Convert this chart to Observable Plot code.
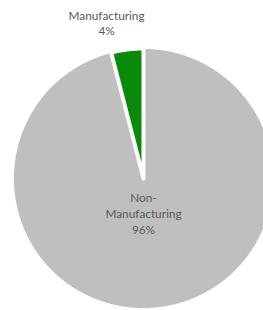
<!DOCTYPE html>
<html><head><meta charset="utf-8">
<script src="https://cdn.jsdelivr.net/npm/d3@7"></script>
<script src="https://cdn.jsdelivr.net/npm/@observablehq/plot@0.6"></script>
<style>
body{margin:0;background:#fff;}
#chart svg{display:block;}
</style>
</head><body><div id="chart"></div>
<script>
// Data
const categories = ["Non-Manufacturing", "Manufacturing"];
const values = [96, 4];
const labelNames = ["Non-\nManufacturing", "Manufacturing"];

const total = d3.sum(values);
const pie = d3.pie().sort(null).value(d => d.value)(
  categories.map((c, i) => ({category: c, value: values[i], name: labelNames[i]}))
);

// Build slice outlines in unit-circle data space (angle clockwise from 12 o'clock)
const points = [];
for (const s of pie) {
  points.push({category: s.data.category, u: 0, v: 0});
  const n = Math.max(2, Math.ceil((s.endAngle - s.startAngle) / (Math.PI / 360)));
  for (let k = 0; k <= n; ++k) {
    const a = s.startAngle + (s.endAngle - s.startAngle) * k / n;
    points.push({category: s.data.category, u: Math.sin(a), v: Math.cos(a)});
  }
}

const labelRows = pie.map(s => ({
  category: s.data.category,
  text: `${s.data.name}\n${Math.round(s.data.value / total * 100)}%`,
  mid: (s.startAngle + s.endAngle) / 2,
  share: s.data.value / total
}));

const W = 263, H = 310, R = 130, CX = 143, CY = 178;
const font = "Lato, 'Open Sans', sans-serif";

const chart = Plot.plot({
  width: W, height: H,
  margin: 0,
  style: {background: "white", fontFamily: font},
  x: {domain: [-CX / R, (W - CX) / R], range: [0, W], axis: null},
  y: {domain: [-(H - CY) / R, CY / R], range: [H, 0], axis: null},
  color: {domain: categories, range: ["#bfbfbf", "#0a8a0a"]},
  marks: [
    Plot.line(points.filter(d => d.category === categories[0]), {
      x: "u", y: "v", z: "category", fill: "category",
      stroke: "white", strokeWidth: 1, curve: "linear-closed", strokeLinejoin: "round"
    }),
    Plot.line(points.filter(d => d.category === categories[1]), {
      x: "u", y: "v", z: "category", fill: "category",
      stroke: "white", strokeWidth: 4, curve: "linear-closed", strokeLinejoin: "round"
    }),
    // small slice: label outside, above
    Plot.text(labelRows.filter(d => d.share < 0.5), {
      x: d => 1.23 * Math.sin(d.mid) - 0.13, y: d => 1.23 * Math.cos(d.mid) - 0.025,
      text: "text", fill: "#595959", fontSize: 11.8, lineHeight: 1.28,
      textAnchor: "middle", lineAnchor: "middle"
    }),
    // large slice: label inside
    Plot.text(labelRows.filter(d => d.share >= 0.5), {
      x: 0, y: -0.262,
      text: "text", fill: "#595959", fontSize: 11.8, lineHeight: 1.36,
      textAnchor: "middle", lineAnchor: "middle"
    })
  ]
});
document.getElementById("chart").append(chart);
</script>
</body></html>
